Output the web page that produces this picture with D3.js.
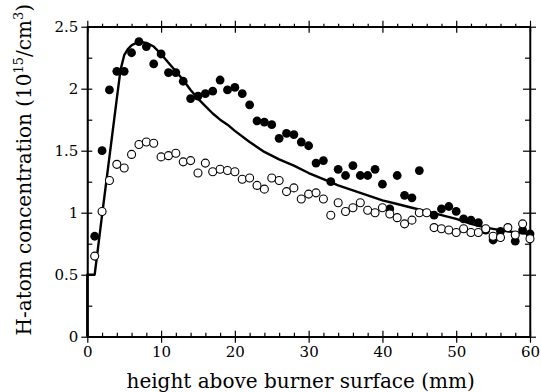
<!DOCTYPE html>
<html>
<head>
<meta charset="utf-8">
<script src="https://cdn.jsdelivr.net/npm/d3@7"></script>
<style>
  body { margin: 0; background: #ffffff; }
  .canvas { width: 541px; height: 392px; }
  text { font-family: "DejaVu Serif", serif; fill: #000000; }
  .axis path, .axis line { stroke: #000000; stroke-width: 1.2; }
  .axis text { font-size: 15px; font-family: "DejaVu Serif", serif; }
</style>
</head>
<body>
<div class="canvas"></div>
<script>
const filledX = [
  1, 2, 3, 4, 5, 6, 7, 8, 9, 10, 11, 12, 13, 14, 15, 16, 17, 18, 19, 20,
  21, 22, 23, 24, 25, 26, 27, 28, 29, 30, 31, 32, 33, 34, 35, 36, 37, 38, 39, 40,
  41, 42, 43, 44, 45, 47, 48, 49, 50, 51, 52, 53, 54, 55, 56, 58, 59, 60
];
const filledY = [
  0.81, 1.5, 1.99, 2.14, 2.14, 2.29, 2.38, 2.34, 2.2, 2.28, 2.13, 2.13, 2.06, 1.92, 1.94, 1.96, 1.98, 2.07, 1.99, 2.01,
  1.96, 1.87, 1.74, 1.73, 1.71, 1.6, 1.64, 1.63, 1.57, 1.54, 1.4, 1.42, 1.25, 1.35, 1.3, 1.38, 1.3, 1.3, 1.35, 1.23,
  1.03, 1.3, 1.14, 1.12, 1.34, 0.98, 1.03, 1.05, 1.01, 0.95, 0.94, 0.92, 0.86, 0.78, 0.85, 0.77, 0.86, 0.83
];

const openX = d3.range(1, 61);
const openY = [
  0.65, 1.01, 1.26, 1.39, 1.36, 1.47, 1.55, 1.57, 1.56, 1.45, 1.46, 1.48, 1.41, 1.42, 1.32, 1.4, 1.33, 1.35, 1.34, 1.33,
  1.27, 1.28, 1.22, 1.19, 1.28, 1.26, 1.17, 1.2, 1.11, 1.15, 1.16, 1.11, 0.98, 1.08, 1.01, 1.04, 1.08, 1.02, 1.0, 1.04,
  0.99, 0.96, 0.91, 0.94, 1.0, 1.0, 0.88, 0.87, 0.86, 0.84, 0.87, 0.84, 0.84, 0.87, 0.81, 0.8, 0.88, 0.82, 0.91, 0.79
];

const modelX = [
  0, 0, 1, 2, 3, 4, 4.5, 5, 5.5, 6, 7, 8, 9, 10, 11, 12, 13, 14, 15, 16, 17, 18, 19, 20,
  22, 24, 26, 28, 30, 32, 34, 36, 38, 40, 42, 44, 46, 48, 50, 52, 54, 56, 58, 60
];
const modelY = [
  0, 0.5, 0.5, 0.98, 1.45, 1.92, 2.15, 2.27, 2.32, 2.35, 2.38, 2.37, 2.34, 2.28, 2.21, 2.14, 2.07, 1.99, 1.92, 1.86, 1.8, 1.75, 1.71, 1.66,
  1.57, 1.49, 1.43, 1.38, 1.32, 1.27, 1.22, 1.18, 1.14, 1.1, 1.07, 1.04, 1.01, 0.98, 0.95, 0.91, 0.88, 0.86, 0.84, 0.83
];

const xMajor = [0, 10, 20, 30, 40, 50, 60];
const xMinor = d3.range(0, 61, 2).filter((d) => d % 10 !== 0);
const yMajor = [0, 0.5, 1, 1.5, 2, 2.5];
const yMinor = [0.25, 0.75, 1.25, 1.75, 2.25];

const xTitle = "height above burner surface (mm)";

function setup() {
  const margin = { top: 26.7, right: 11, bottom: 55.3, left: 87.3 };
  const width = 541 - margin.left - margin.right;
  const height = 392 - margin.top - margin.bottom;

  const x = d3.scaleLinear().domain([0, 60]).range([0, width]);
  const y = d3.scaleLinear().domain([0, 2.5]).range([height, 0]);

  const svg = d3
    .select(".canvas")
    .append("svg")
    .attr("width", 541)
    .attr("height", 392);

  const chart = svg
    .append("g")
    .attr("transform", `translate(${margin.left}, ${margin.top})`);

  // frame
  chart
    .append("rect")
    .attr("width", width)
    .attr("height", height)
    .attr("fill", "none")
    .attr("stroke", "#000")
    .attr("stroke-width", 1.2);

  const noLabel = () => "";

  // bottom axis: majors cross, minors point in
  chart
    .append("g")
    .attr("class", "axis")
    .attr("transform", `translate(0, ${height})`)
    .call(d3.axisBottom(x).tickValues(xMajor).tickSize(6).tickSizeOuter(0).tickPadding(4).tickFormat(d3.format("d")));
  chart
    .append("g")
    .attr("class", "axis")
    .attr("transform", `translate(0, ${height})`)
    .call(d3.axisBottom(x).tickValues(xMajor).tickSize(-6).tickSizeOuter(0).tickFormat(noLabel));
  chart
    .append("g")
    .attr("class", "axis")
    .attr("transform", `translate(0, ${height})`)
    .call(d3.axisBottom(x).tickValues(xMinor).tickSize(-4).tickSizeOuter(0).tickFormat(noLabel));

  // top axis
  chart
    .append("g")
    .attr("class", "axis")
    .call(d3.axisTop(x).tickValues(xMajor).tickSize(6).tickSizeOuter(0).tickFormat(noLabel));
  chart
    .append("g")
    .attr("class", "axis")
    .call(d3.axisTop(x).tickValues(xMajor).tickSize(-6).tickSizeOuter(0).tickFormat(noLabel));
  chart
    .append("g")
    .attr("class", "axis")
    .call(d3.axisTop(x).tickValues(xMinor).tickSize(3).tickSizeOuter(0).tickFormat(noLabel));

  // left axis
  chart
    .append("g")
    .attr("class", "axis")
    .call(d3.axisLeft(y).tickValues(yMajor).tickSize(6).tickSizeOuter(0).tickPadding(3).tickFormat((d) => String(d)));
  chart
    .append("g")
    .attr("class", "axis")
    .call(d3.axisLeft(y).tickValues(yMajor).tickSize(-5).tickSizeOuter(0).tickFormat(noLabel));
  chart
    .append("g")
    .attr("class", "axis")
    .call(d3.axisLeft(y).tickValues(yMinor).tickSize(-5).tickSizeOuter(0).tickFormat(noLabel));

  // right axis
  chart
    .append("g")
    .attr("class", "axis")
    .attr("transform", `translate(${width}, 0)`)
    .call(d3.axisRight(y).tickValues(yMajor).tickSize(6).tickSizeOuter(0).tickFormat(noLabel));
  chart
    .append("g")
    .attr("class", "axis")
    .attr("transform", `translate(${width}, 0)`)
    .call(d3.axisRight(y).tickValues(yMajor).tickSize(-7).tickSizeOuter(0).tickFormat(noLabel));
  chart
    .append("g")
    .attr("class", "axis")
    .attr("transform", `translate(${width}, 0)`)
    .call(d3.axisRight(y).tickValues(yMinor).tickSize(-5).tickSizeOuter(0).tickFormat(noLabel));

  // model curve
  const line = d3
    .line()
    .x((d, i) => x(modelX[i]))
    .y((d) => y(d));
  chart
    .append("path")
    .datum(modelY)
    .attr("d", line)
    .attr("fill", "none")
    .attr("stroke", "#000")
    .attr("stroke-width", 2.4)
    .attr("stroke-linejoin", "round");

  chart
    .append("g")
    .selectAll("circle")
    .data(filledY)
    .enter()
    .append("circle")
    .attr("cx", (d, i) => x(filledX[i]))
    .attr("cy", (d) => y(d))
    .attr("r", 4.4)
    .attr("fill", "#000");

  chart
    .append("g")
    .selectAll("circle")
    .data(openY)
    .enter()
    .append("circle")
    .attr("cx", (d, i) => x(openX[i]))
    .attr("cy", (d) => y(d))
    .attr("r", 4)
    .attr("fill", "#fff")
    .attr("stroke", "#000")
    .attr("stroke-width", 1.1);

  // axis titles
  svg
    .append("text")
    .attr("x", margin.left + width / 2 - 8)
    .attr("y", 388)
    .attr("text-anchor", "middle")
    .style("font-size", "20px")
    .text(xTitle);

  const yTitle = svg
    .append("text")
    .attr("transform", `translate(31, ${margin.top + height / 2 - 12}) rotate(-90)`)
    .attr("text-anchor", "middle")
    .style("font-size", "20px");
  yTitle.append("tspan").text("H-atom concentration (10");
  yTitle.append("tspan").attr("dy", -8).style("font-size", "13px").text("15");
  yTitle.append("tspan").attr("dy", 8).text("/cm");
  yTitle.append("tspan").attr("dy", -8).style("font-size", "13px").text("3");
  yTitle.append("tspan").attr("dy", 8).text(")");
}

setup();
</script>
</body>
</html>
